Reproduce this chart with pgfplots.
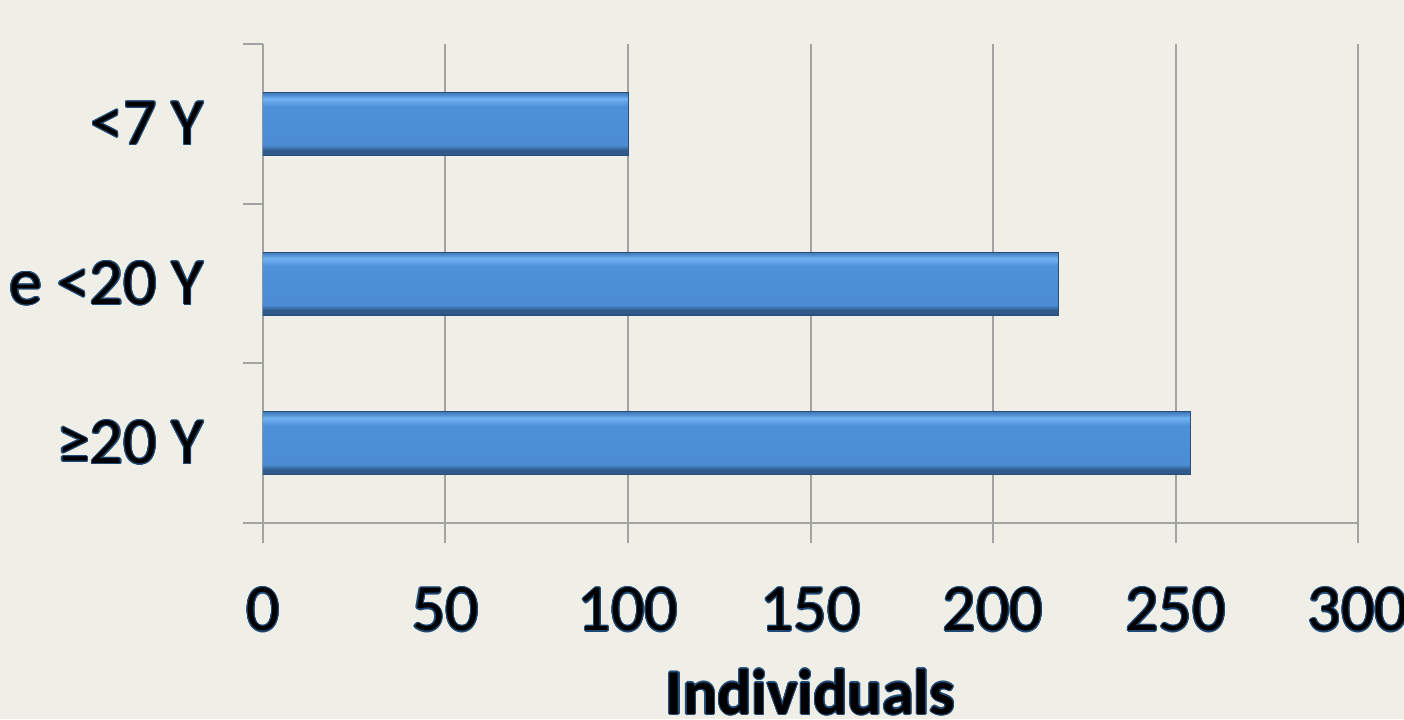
\documentclass[border=0pt]{standalone}
\usepackage{pgfplots}
\pgfplotsset{compat=1.18}
\usepackage{fontspec}
\setmainfont{Carlito}
\usepackage{contour}
\contourlength{0.55pt}
\definecolor{bg}{HTML}{F0EFE7}
\definecolor{navy}{HTML}{1F4A75}
\definecolor{gridc}{HTML}{A3A3A3}
\definecolor{barEdge}{HTML}{2A4E78}
\definecolor{bA}{HTML}{1F3A5C}
\definecolor{bB}{HTML}{2F5A8A}
\definecolor{bC}{HTML}{3F78B8}
\definecolor{bD}{HTML}{4B8CD2}
\definecolor{bE}{HTML}{4F91D8}
\definecolor{bF}{HTML}{70B2F2}
\definecolor{bG}{HTML}{4A86C8}
\pgfdeclareverticalshading{barshade}{100bp}{
  color(0bp)=(bA); color(25bp)=(bA); color(26bp)=(bB); color(29bp)=(bB);
  color(33bp)=(bD); color(64bp)=(bE); color(70bp)=(bF); color(73.5bp)=(bG);
  color(75bp)=(bC); color(100bp)=(bC)}
\newcommand{\ct}[1]{\contour{navy}{#1}}
\begin{document}
\begin{tikzpicture}
\fill[bg] (0,0) rectangle (702pt,359.5pt);
\begin{axis}[
  at={(131.5pt,98pt)}, anchor=south west,
  scale only axis, width=547.5pt, height=239.5pt,
  xmin=0, xmax=300, ymin=-0.5, ymax=2.5,
  xbar, bar width=31.5pt, bar shift=0pt,
  axis lines=left, axis line style={-, draw=gridc, line width=1pt},
  xmajorgrids, major grid style={draw=gridc, line width=1pt},
  tick align=outside,
  xtick={0,50,100,150,200,250,300},
  xticklabels={\ct{0},\ct{50},\ct{100},\ct{150},\ct{200},\ct{250},\ct{300}},
  ytick={0,1,2},
  yticklabels={\ct{≥20 Y},\ct{≥7 e <20 Y},\ct{<7 Y}},
  minor ytick={-0.5,0.5,1.5,2.5},
  major tick length=10pt,
  minor tick length=10pt,
  tick style={draw=gridc, line width=1pt},
  major y tick style={draw=none},
  ticklabel style={font=\fontsize{33}{36}\selectfont, text=black},
  xticklabel style={yshift=-19pt},
  yticklabel style={xshift=-16pt},
  xlabel={\ct{\textbf{Individuals}}},
  xlabel style={font=\fontsize{32}{36}\selectfont\bfseries, text=black, yshift=-11.5pt},
  every axis plot post/.append style={draw=barEdge, line width=0.5pt, shade, shading=barshade},
]
\addplot coordinates {(254,0)};
\addplot coordinates {(218,1)};
\addplot coordinates {(100,2)};
\end{axis}
\pgfresetboundingbox
\path[use as bounding box] (0,0) rectangle (702pt,359.5pt);
\end{tikzpicture}
\end{document}
